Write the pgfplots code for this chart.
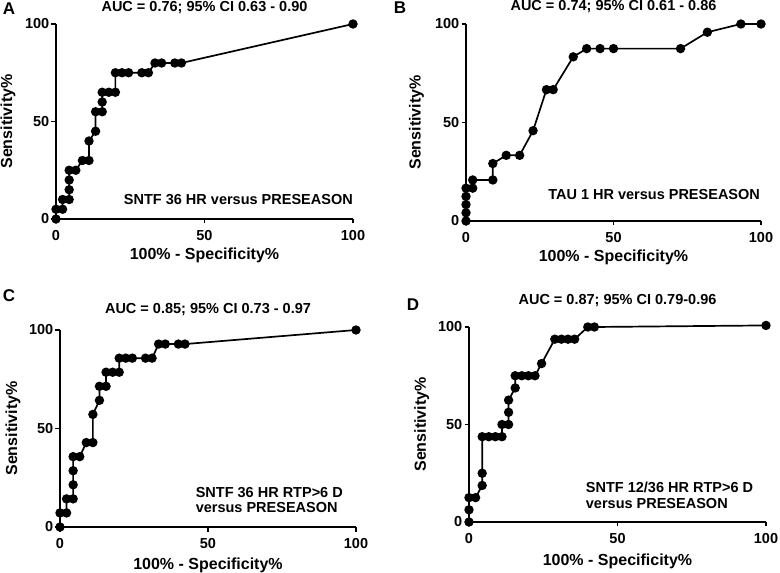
\documentclass[border=0pt]{standalone}
\usepackage{fontspec}
\setmainfont{Liberation Sans}
\usepackage{pgfplots}
\pgfplotsset{compat=1.18}
\pgfplotsset{
  rocax/.style={
    scale only axis,
    xmin=0, xmax=100, ymin=0, ymax=100,
    axis x line*=bottom, axis y line*=left,
    axis line style={line width=2.2pt},
    xtick={0,50,100}, ytick={0,50,100},
    tick align=outside, major tick length=4.5pt,
    tick style={line width=1.8pt, black},
    /pgf/number format/assume math mode=true,
    ticklabel style={font=\fontsize{14.5}{16}\selectfont\bfseries},
    xticklabel style={anchor=center, inner sep=0pt, yshift=-12pt},
    yticklabel style={anchor=east, inner sep=0pt, xshift=-2pt},
    clip=false,
  },
  roc/.style={black, line width=1.7pt, mark=*, mark size=3.8pt, mark options={solid, fill=black}},
  orig/.style={black, only marks, mark=diamond*, mark size=4.4pt},
}
\newcommand{\lab}{\fontsize{16}{18}\selectfont\bfseries}
\newcommand{\ttl}{\fontsize{14.5}{16}\selectfont\bfseries}
\newcommand{\ann}{\fontsize{14.5}{15.5}\selectfont\bfseries}
\begin{document}
\begin{tikzpicture}[x=1pt,y=1pt]
\useasboundingbox (0,0) rectangle (780,573);

% Panel A
\begin{axis}[rocax, at={(56pt,354pt)}, anchor=south west, width=297pt, height=195pt]
\addplot[roc] coordinates {(0,0)(0,5)(2.22,5)(2.22,10)(4.44,10)(4.44,15)(4.44,20)(4.44,25)(6.67,25)(8.89,30)(11.11,30)(11.11,40)(13.33,45)(13.33,55)(15.56,55)(15.56,60)(15.56,65)(17.78,65)(20,65)(20,75)(22.22,75)(24.44,75)(28.89,75)(31.11,75)(33.33,80)(35.56,80)(40,80)(42.22,80)(100,100)};
\addplot[orig] coordinates {(0,0)};
\node[font=\ttl] at (rel axis cs:0.5,1) [yshift=16pt] {AUC = 0.76; 95\% CI 0.63 - 0.90};
\node[font=\lab] at (rel axis cs:0.5,0) [yshift=-36pt] {100\% - Specificity\%};
\node[xshift=-48pt, rotate=90, font=\lab] at (rel axis cs:0,0.5) {Sensitivity\%};
\node[font=\ann, anchor=east, inner sep=0pt] at (axis cs:100,10) {SNTF 36 HR versus PRESEASON};
\end{axis}

% Panel B
\begin{axis}[rocax, at={(466pt,352pt)}, anchor=south west, width=295pt, height=197pt]
\addplot[roc] coordinates {(0,0)(0,4.17)(0,8.33)(0,12.5)(0,16.67)(2.27,16.67)(2.27,20.83)(9.09,20.83)(9.09,29.17)(13.64,33.33)(18.18,33.33)(22.73,45.83)(27.27,66.67)(29.55,66.67)(36.36,83.33)(40.91,87.5)(45.45,87.5)(50,87.5)(72.73,87.5)(81.82,95.83)(93.18,100)(100,100)};
\addplot[orig] coordinates {(0,0)};
\node[font=\ttl] at (rel axis cs:0.5,1) [yshift=17pt] {AUC = 0.74; 95\% CI 0.61 - 0.86};
\node[font=\lab] at (rel axis cs:0.5,0) [yshift=-36pt] {100\% - Specificity\%};
\node[xshift=-49.5pt, rotate=90, font=\lab] at (rel axis cs:0,0.5) {Sensitivity\%};
\node[font=\ann, anchor=east, inner sep=0pt] at (axis cs:99.7,13.5) {TAU 1 HR versus PRESEASON};
\end{axis}

% Panel C
\begin{axis}[rocax, at={(60pt,46pt)}, anchor=south west, width=296pt, height=197pt]
\addplot[roc] coordinates {(0,0)(0,7.14)(2.22,7.14)(2.22,14.29)(4.44,14.29)(4.44,21.43)(4.44,28.57)(4.44,35.71)(6.67,35.71)(8.89,42.86)(11.11,42.86)(11.11,57.14)(13.33,64.29)(13.33,71.43)(15.56,71.43)(15.56,78.57)(17.78,78.57)(20,78.57)(20,85.71)(22.22,85.71)(24.44,85.71)(28.89,85.71)(31.11,85.71)(33.33,92.86)(35.56,92.86)(40,92.86)(42.22,92.86)(100,100)};
\addplot[orig] coordinates {(0,0)};
\node[font=\ttl] at (rel axis cs:0.5,1) [yshift=20.7pt] {AUC = 0.85; 95\% CI 0.73 - 0.97};
\node[font=\lab] at (rel axis cs:0.5,0) [yshift=-38pt] {100\% - Specificity\%};
\node[xshift=-47pt, rotate=90, font=\lab] at (rel axis cs:0,0.5) {Sensitivity\%};
\node[font=\ann, anchor=west, align=left, inner sep=0pt] at (axis cs:45.8,13.7) {SNTF 36 HR RTP>6 D\\versus PRESEASON};
\end{axis}

% Panel D
\begin{axis}[rocax, at={(469pt,51pt)}, anchor=south west, width=297pt, height=195pt]
\addplot[roc] coordinates {(0,0)(0,6.25)(0,12.5)(2.22,12.5)(4.44,18.75)(4.44,25)(4.44,43.75)(6.67,43.75)(8.89,43.75)(11.11,43.75)(11.11,50)(13.33,50)(13.33,56.25)(13.33,62.5)(15.56,68.75)(15.56,75)(17.78,75)(20,75)(22.22,75)(24.44,81.25)(28.89,93.75)(31.11,93.75)(33.33,93.75)(35.56,93.75)(40,100)(42.22,100)(100,100.8)};
\addplot[orig] coordinates {(0,0)};
\node[font=\ttl] at (rel axis cs:0.5,1) [yshift=26pt] {AUC = 0.87; 95\% CI 0.79-0.96};
\node[font=\lab] at (rel axis cs:0.5,0) [yshift=-39.7pt] {100\% - Specificity\%};
\node[xshift=-47.3pt, rotate=90, font=\lab] at (rel axis cs:0,0.5) {Sensitivity\%};
\node[font=\ann, anchor=west, align=left, inner sep=0pt] at (axis cs:39.3,13.7) {SNTF 12/36 HR RTP>6 D\\versus PRESEASON};
\end{axis}

% Panel letters
\node[font=\fontsize{17}{19}\selectfont\bfseries] at (9,564) {A};
\node[font=\fontsize{17}{19}\selectfont\bfseries] at (400,565) {B};
\node[font=\fontsize{17}{19}\selectfont\bfseries] at (9,277) {C};
\node[font=\fontsize{17}{19}\selectfont\bfseries] at (413,268) {D};
\end{tikzpicture}
\end{document}
